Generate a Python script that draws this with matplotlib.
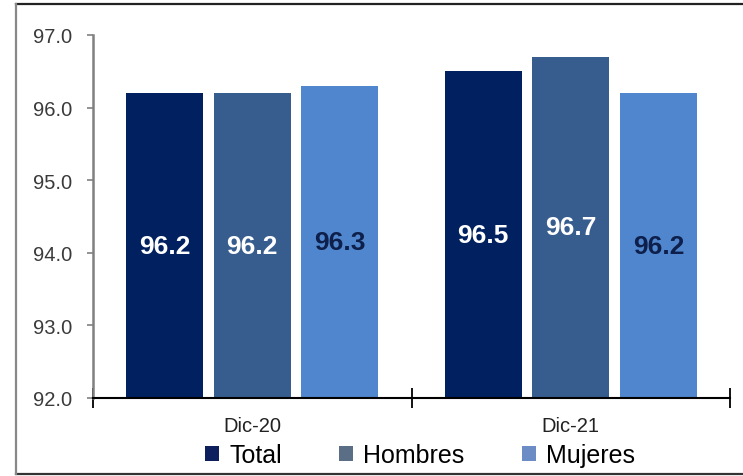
import matplotlib
matplotlib.use("Agg")
import matplotlib.pyplot as plt
from matplotlib.patches import Patch
from matplotlib.lines import Line2D
import numpy as np

plt.rcParams['font.family'] = ['Liberation Sans', 'DejaVu Sans']

categories = ["Dic-20", "Dic-21"]
series_names = ["Total", "Hombres", "Mujeres"]
total = [96.2, 96.5]
hombres = [96.2, 96.7]
mujeres = [96.3, 96.2]
y_ticks = [92.0, 93.0, 94.0, 95.0, 96.0, 97.0]

colors = ["#002060", "#375D8F", "#4F86CE"]
label_colors = ["white", "white", "#0D1F4A"]

W, H = 743, 477
fig = plt.figure(figsize=(W / 100, H / 100), dpi=100)
ax = fig.add_axes([93 / W, (H - 399) / H, (730 - 93) / W, (399 - 36) / H])

x = np.arange(len(categories))
bar_w = 0.242
step = 0.275
base = y_ticks[0]
for i, (vals, col, lcol) in enumerate(zip([total, hombres, mujeres], colors, label_colors)):
    xs = x + (i - 1) * step
    heights = [v - base for v in vals]
    ax.bar(xs, heights, width=bar_w, bottom=base, color=col, zorder=2)
    for xi, v in zip(xs, vals):
        ax.text(xi, (base + v) / 2, f"{v:.1f}", ha="center", va="center",
                color=lcol, fontsize=19, fontweight="bold", zorder=3)

ax.set_xlim(-0.5, len(categories) - 0.5)
ax.set_ylim(y_ticks[0], y_ticks[-1])
ax.set_yticks(y_ticks)
ax.set_yticklabels([f"{t:.1f}" for t in y_ticks], fontsize=14.5, color="#3a3a3a")
ax.tick_params(axis="y", length=4, width=1.2, color="#808080", pad=11)

ax.set_xticks(x)
ax.set_xticklabels(categories, fontsize=14.5, color="#222222")
ax.tick_params(axis="x", which="major", length=0, pad=13)
ax.set_xticks(np.arange(-0.5, len(categories)), minor=True)
ax.tick_params(axis="x", which="minor", direction="inout", length=15, width=1.3, color="black")

for s in ["top", "right"]:
    ax.spines[s].set_visible(False)
ax.spines["left"].set_color("#808080")
ax.spines["left"].set_linewidth(1.8)
ax.spines["bottom"].set_color("black")
ax.spines["bottom"].set_linewidth(1.5)
ax.spines["bottom"].set_zorder(4)

handles = [Patch(facecolor=c, edgecolor="none") for c in ["#0D1F5C", "#5A6E85", "#6B8CC4"]]
fig.legend(handles, series_names, loc="center", bbox_to_anchor=(420 / W, (H - 456) / H),
           ncol=3, frameon=False, fontsize=18, handlelength=0.55, handleheight=0.55,
           handletextpad=0.4, columnspacing=2.3, borderpad=0, borderaxespad=0)

# outer frame
fig.add_artist(Line2D([16 / W, 1], [(H - 5) / H] * 2, color="#222222", lw=1.6, transform=fig.transFigure))
fig.add_artist(Line2D([16 / W, 1], [(H - 475) / H] * 2, color="#333333", lw=1.6, transform=fig.transFigure))
fig.add_artist(Line2D([16 / W] * 2, [(H - 475) / H, (H - 5) / H], color="#888888", lw=1.6, transform=fig.transFigure))

fig.savefig("out.png", dpi=100)
